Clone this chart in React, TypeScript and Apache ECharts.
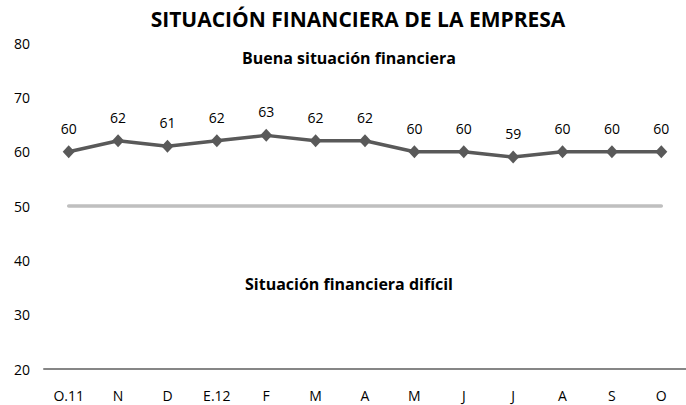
import React, { useEffect, useRef } from "react";
import * as echarts from "echarts";

const categories = ["O.11", "N", "D", "E.12", "F", "M", "A", "M", "J", "J", "A", "S", "O"];
const values = [60, 62, 61, 62, 63, 62, 62, 60, 60, 59, 60, 60, 60];
const threshold = [50, 50, 50, 50, 50, 50, 50, 50, 50, 50, 50, 50, 50];
const titleText = "SITUACIÓN FINANCIERA DE LA EMPRESA";
const upperNote = "Buena situación financiera";
const lowerNote = "Situación financiera difícil";

const BOLD = "'Open Sans', sans-serif";
const LABEL = "'Open Sans', sans-serif";

export default function App() {
  const ref = useRef<HTMLDivElement>(null);
  useEffect(() => {
    document.body.style.margin = "0";
    const chart = echarts.init(ref.current!, null, { renderer: "svg" });
    chart.setOption({
      animation: false,
      backgroundColor: "#ffffff",
      grid: { left: 44, top: 43, width: 646, height: 326, containLabel: false },
      graphic: [
        {
          type: "text",
          x: 358,
          y: 19,
          style: { text: titleText, font: `bold 21px ${BOLD}`, fill: "#000", align: "center", verticalAlign: "middle" },
        },
        {
          type: "text",
          x: 349,
          y: 58,
          style: { text: upperNote, font: `bold 16px ${BOLD}`, fill: "#000", align: "center", verticalAlign: "middle" },
        },
        {
          type: "text",
          x: 349,
          y: 284,
          style: { text: lowerNote, font: `bold 16px ${BOLD}`, fill: "#000", align: "center", verticalAlign: "middle" },
        },
      ],
      xAxis: {
        type: "category",
        data: categories,
        boundaryGap: true,
        axisLine: { lineStyle: { color: "#868686", width: 2 } },
        axisTick: { show: false },
        axisLabel: { color: "#000", fontFamily: LABEL, fontSize: 14, margin: 19 },
      },
      yAxis: {
        type: "value",
        min: 20,
        max: 80,
        interval: 10,
        axisLine: { show: false },
        axisTick: { show: false },
        splitLine: { show: false },
        axisLabel: { color: "#000", fontFamily: LABEL, fontSize: 14, margin: 14 },
      },
      series: [
        {
          type: "line",
          data: threshold,
          symbol: "none",
          lineStyle: { color: "#BFBFBF", width: 3.5, cap: "round" },
          silent: true,
          z: 1,
        },
        {
          type: "line",
          data: values,
          symbol: "diamond",
          symbolSize: [12, 13],
          itemStyle: { color: "#595959" },
          lineStyle: { color: "#595959", width: 3.5 },
          label: { show: true, position: "top", distance: 10, color: "#000", fontFamily: LABEL, fontSize: 14 },
          z: 2,
        },
      ],
    });
    return () => chart.dispose();
  }, []);
  return <div ref={ref} style={{ width: 686, height: 405 }} />;
}
